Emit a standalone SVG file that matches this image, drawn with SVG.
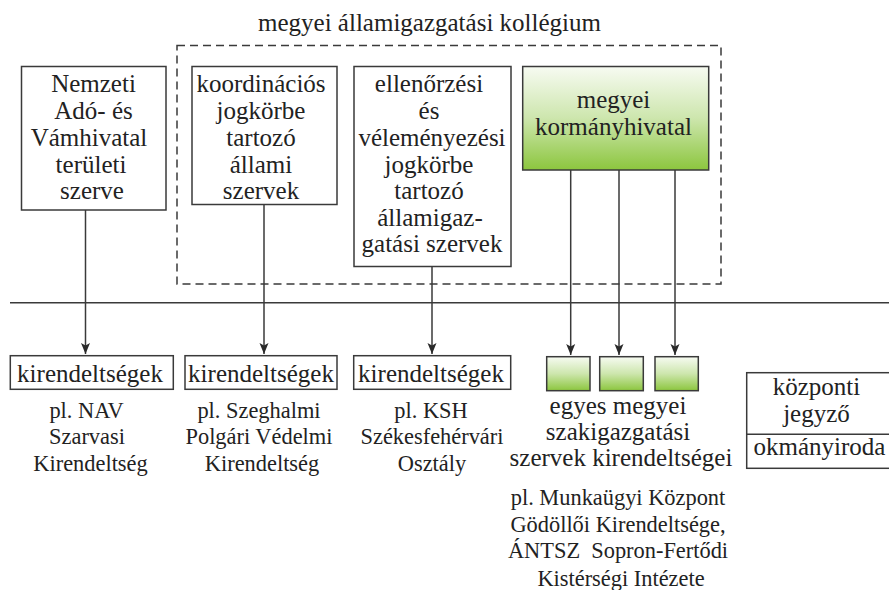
<svg xmlns="http://www.w3.org/2000/svg" width="889" height="590" viewBox="0 0 889 590" style="font-family: 'Liberation Serif', 'DejaVu Serif', 'Times New Roman', Times, serif;">
  <defs>
    <linearGradient id="green" x1="0" y1="0" x2="0" y2="1">
      <stop offset="0" stop-color="#f7fbf2"/>
      <stop offset="0.5" stop-color="#cde6ad"/>
      <stop offset="1" stop-color="#8cc63e"/>
    </linearGradient>
    <marker id="arrow" markerUnits="userSpaceOnUse" markerWidth="12" markerHeight="12" viewBox="0 0 12 12" refX="11" refY="6" orient="auto">
      <path d="M0,1.5 L11,6 L0,10.5 L2.5,6 z" fill="#2a2a2a"/>
    </marker>
    <style>
      .box { fill: #ffffff; stroke: #3a3a3a; stroke-width: 1.5; }
      .gbox { fill: url(#green); stroke: #3a3a3a; stroke-width: 1.5; }
      .dash { fill: none; stroke: #3a3a3a; stroke-width: 1.5; stroke-dasharray: 8 5; }
      .line { fill: none; stroke: #3a3a3a; stroke-width: 1.5; }
      .arr { fill: none; stroke: #3a3a3a; stroke-width: 1.5; marker-end: url(#arrow); }
      .t { font-family: 'Liberation Serif', 'DejaVu Serif', serif; fill: #222222; text-anchor: middle; }
      .big { font-size: 25px; }
      .small { font-size: 22.4px; }
    </style>
  </defs>

  <!-- collegium frame and its title -->
  <g id="kollegium">
    <rect class="dash" x="177" y="45.5" width="544" height="238.5"/>
    <text class="t big" x="429.5" y="31">megyei államigazgatási kollégium</text>
  </g>

  <!-- top-level organisations -->
  <g id="nav">
    <rect class="box" x="21.5" y="66.5" width="144.5" height="143.5"/>
    <text class="t big" x="93.5" y="92">Nemzeti</text>
    <text class="t big" x="93.5" y="119">Adó- és</text>
    <text class="t big" x="89" y="146">Vámhivatal</text>
    <text class="t big" x="91" y="173">területi</text>
    <text class="t big" x="92" y="199">szerve</text>
  </g>

  <g id="koordinacios">
    <rect class="box" x="192" y="66.5" width="145" height="138"/>
    <text class="t big" x="261" y="92">koordinációs</text>
    <text class="t big" x="261" y="119">jogkörbe</text>
    <text class="t big" x="261" y="146">tartozó</text>
    <text class="t big" x="261" y="173">állami</text>
    <text class="t big" x="261" y="199">szervek</text>
  </g>

  <g id="ellenorzesi">
    <rect class="box" x="354" y="66.5" width="157" height="200"/>
    <text class="t big" x="429" y="92">ellenőrzési</text>
    <text class="t big" x="429" y="119">és</text>
    <text class="t big" x="432" y="146">véleményezési</text>
    <text class="t big" x="429" y="173">jogkörbe</text>
    <text class="t big" x="429" y="199">tartozó</text>
    <text class="t big" x="430" y="226">államigaz-</text>
    <text class="t big" x="432" y="252">gatási szervek</text>
  </g>

  <g id="kormanyhivatal">
    <rect class="gbox" x="522.7" y="66.5" width="186" height="103.5"/>
    <text class="t big" x="613.5" y="108">megyei</text>
    <text class="t big" x="613.5" y="135">kormányhivatal</text>
  </g>

  <!-- separator between the two levels -->
  <g id="separator">
    <line class="line" x1="10" y1="302.7" x2="889" y2="302.7"/>
  </g>

  <!-- connectors -->
  <g id="connectors">
    <line class="arr" x1="85.5" y1="210" x2="85.5" y2="354"/>
    <line class="arr" x1="264" y1="204.5" x2="264" y2="354"/>
    <line class="arr" x1="432" y1="266.5" x2="432" y2="354"/>
    <line class="arr" x1="570.7" y1="170" x2="570.7" y2="355"/>
    <line class="arr" x1="619" y1="170" x2="619" y2="355"/>
    <line class="arr" x1="675" y1="170" x2="675" y2="355"/>
  </g>

  <!-- local offices -->
  <g id="kirendeltsegek-nav">
    <rect class="box" x="10.3" y="355.7" width="163" height="33.6"/>
    <text class="t big" x="90" y="381.5">kirendeltségek</text>
    <text class="t small" x="86.5" y="418">pl. NAV</text>
    <text class="t small" x="87" y="444">Szarvasi</text>
    <text class="t small" x="90.5" y="470.5">Kirendeltség</text>
  </g>

  <g id="kirendeltsegek-polgari">
    <rect class="box" x="185" y="355.7" width="152" height="33.6"/>
    <text class="t big" x="261" y="381.5">kirendeltségek</text>
    <text class="t small" x="259" y="418">pl. Szeghalmi</text>
    <text class="t small" x="259" y="444">Polgári Védelmi</text>
    <text class="t small" x="262" y="470.5">Kirendeltség</text>
  </g>

  <g id="kirendeltsegek-ksh">
    <rect class="box" x="353.7" y="355.7" width="157" height="33.6"/>
    <text class="t big" x="431" y="381.5">kirendeltségek</text>
    <text class="t small" x="431" y="418">pl. KSH</text>
    <text class="t small" x="432" y="444">Székesfehérvári</text>
    <text class="t small" x="432" y="470.5">Osztály</text>
  </g>

  <g id="szakigazgatasi-kirendeltsegek">
    <rect class="gbox" x="546.7" y="356.7" width="43.3" height="34"/>
    <rect class="gbox" x="599.7" y="356.7" width="43.6" height="34"/>
    <rect class="gbox" x="655" y="356.7" width="43.3" height="34"/>
    <text class="t big" x="618" y="414">egyes megyei</text>
    <text class="t big" x="618" y="440">szakigazgatási</text>
    <text class="t big" x="621" y="466">szervek kirendeltségei</text>
    <text class="t small" x="618" y="505">pl. Munkaügyi Központ</text>
    <text class="t small" x="618" y="531.5">Gödöllői Kirendeltsége,</text>
    <text xml:space="preserve" class="t small" x="618" y="558">ÁNTSZ  Sopron-Fertődi</text>
    <text class="t small" x="621" y="585.5">Kistérségi Intézete</text>
  </g>

  <g id="kozponti-jegyzo">
    <rect class="box" x="746.7" y="372.7" width="145" height="95.6"/>
    <line class="line" x1="746.7" y1="434.3" x2="891.7" y2="434.3"/>
    <text class="t big" x="816.5" y="395">központi</text>
    <text class="t big" x="816.5" y="421.5">jegyző</text>
    <text class="t big" x="819.5" y="455">okmányiroda</text>
  </g>
</svg>
